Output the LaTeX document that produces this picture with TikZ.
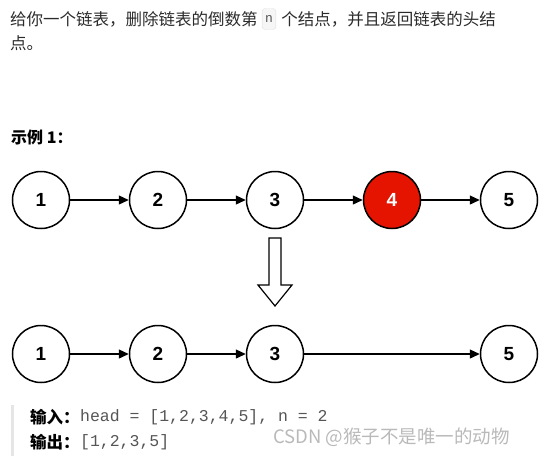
\documentclass[tikz,border=0pt]{standalone}
\usepackage{fontspec}
\setmainfont{Liberation Sans}
\newfontfamily\cjk{Noto Sans CJK SC}
\newfontfamily\codefont{Liberation Mono}
\usetikzlibrary{arrows.meta,positioning}

\definecolor{delred}{HTML}{E51400}
\definecolor{txtgray}{HTML}{2B2B2B}
\definecolor{codegray}{HTML}{555555}

\tikzset{
  listnode/.style={shape=circle,draw=black,line width=1.5pt,minimum size=57pt,inner sep=0pt,font=\fontsize{19}{19}\selectfont\bfseries},
  delnode/.style={listnode,fill=delred,text=white},
  link/.style={-{Triangle[length=10pt,width=9pt]},line width=1.3pt},
  plain/.style={inner sep=0pt,anchor=west,text=txtgray,font=\cjk\fontsize{16.5}{20}\selectfont},
  codebox/.style={draw=gray!25,fill=gray!7,rounded corners=3pt,inner xsep=3pt,minimum height=21pt,text=codegray,font=\codefont\fontsize{13}{13}\selectfont},
}

\begin{document}
\begin{tikzpicture}[x=1pt,y=-1pt]
        \useasboundingbox (0,0) rectangle (556,456);

        % question text
        \node[plain] (q1) at (10,19) {给你一个链表，删除链表的倒数第};
        \node[codebox,right=4pt of q1] (nbox) {n};
        \node[plain,right=5pt of nbox] (q2) {个结点，并且返回链表的头结};
        \node[plain] (q3) at (10,43) {点。};

        \node[plain,text=black,font=\cjk\fontsize{16}{18}\selectfont\bfseries] (ex) at (11,137) {示例 1：};

        % list before
        \node[listnode] (a1) at (41,200)  {1};
        \node[listnode] (a2) at (158,200) {2};
        \node[listnode] (a3) at (275,200) {3};
        \node[delnode]  (a4) at (392,200) {4};
        \node[listnode] (a5) at (509,200) {5};

	\path[link] (a1) edge (a2);
	\path[link] (a2) edge (a3);
	\path[link] (a3) edge (a4);
	\path[link] (a4) edge (a5);

        % hollow arrow
        \draw[line width=1.2pt,line join=miter] (269,238) -- (281,238) -- (281,285) -- (292,285)
              -- (275,306) -- (258,285) -- (269,285) -- cycle;

        % list after
        \node[listnode] (b1) at (41,354)  {1};
        \node[listnode] (b2) at (158,354) {2};
        \node[listnode] (b3) at (275,354) {3};
        \node[listnode] (b5) at (509,354) {5};

	\path[link] (b1) edge (b2);
	\path[link] (b2) edge (b3);
	\path[link] (b3) edge (b5);

        % input / output
        \fill[gray!20] (11,405) rectangle (14,456);
        \node[plain,text=black,font=\cjk\fontsize{16.5}{20}\selectfont\bfseries] (in) at (30,417) {输入：};
        \node[plain,text=codegray,font=\codefont\fontsize{16.5}{20}\selectfont,right=0pt of in] (inval) {head = [1,2,3,4,5], n = 2};
        \node[plain,text=black,font=\cjk\fontsize{16.5}{20}\selectfont\bfseries] (out) at (30,442) {输出：};
        \node[plain,text=codegray,font=\codefont\fontsize{16.5}{20}\selectfont,right=0pt of out] (outval) {[1,2,3,5]};

        \node[plain,text=gray!55,font=\cjk\fontsize{18.5}{20}\selectfont] (mark) at (273,437) {CSDN @猴子不是唯一的动物};
\end{tikzpicture}
\end{document}
